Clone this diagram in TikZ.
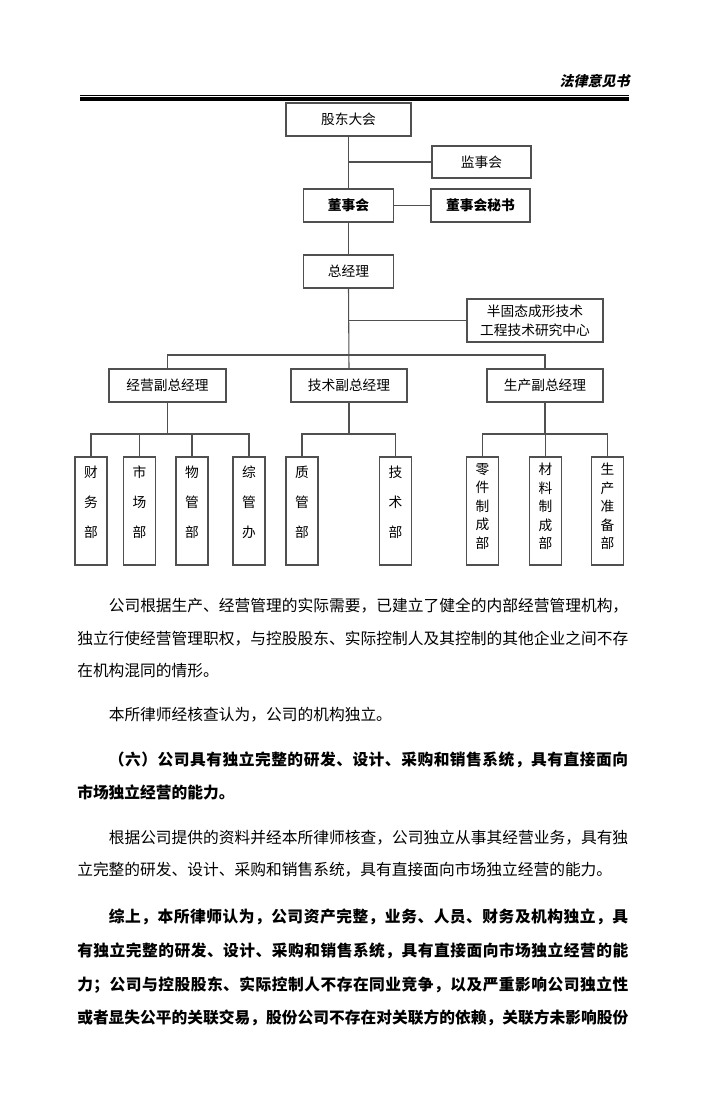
\documentclass[tikz,border=0pt]{standalone}
\usepackage{fontspec}
\newfontfamily\cjk{Noto Sans CJK SC}
\newfontfamily\hdr[FakeSlant=0.2]{Noto Sans CJK SC}
\definecolor{ln}{HTML}{505050}
\def\spr#1{\ifx#1\relax\else#1\hfil\expandafter\spr\fi}
\newcommand\fullline[1]{\hbox to 413.25pt{\spr #1\relax\unskip}}
\newcommand\indline[1]{\hbox to 389.6pt{\spr #1\relax\unskip}}
\tikzset{
  orgbox/.style={draw=ln, line width=0.8pt, fill=white, inner sep=0pt,
    font=\cjk\fontsize{10.3}{12}\selectfont, text=black},
  vbox/.style={draw=ln, line width=0.8pt, inner sep=0pt, minimum width=24pt, minimum height=81pt},
  vtext3/.style={inner sep=0pt, align=center, font=\cjk\fontsize{10.3}{22.5}\selectfont},
  vtext5/.style={inner sep=0pt, align=center, font=\cjk\fontsize{10.3}{13.9}\selectfont},
  conn/.style={draw=ln, line width=0.8pt},
  body/.style={anchor=west, inner sep=0pt, font=\cjk\fontsize{11.8}{14}\selectfont},
  bodyb/.style={body, font=\cjk\bfseries\fontsize{11.8}{14}\selectfont},
}
\begin{document}
\begin{tikzpicture}[x=0.75pt, y=-0.75pt]
\useasboundingbox (0,0) rectangle (700,1117);
\fill[white] (0,0) rectangle (700,1117);

% header
\node[anchor=east, inner sep=0pt, font=\hdr\bfseries\fontsize{10.5}{12}\selectfont] (hdr) at (630,81) {法律意见书};
\draw[line width=0.75pt] (80,95) -- (629,95);
\draw[line width=3pt] (80,99) -- (629,99);

% top boxes
\node[orgbox, minimum width=93.75pt, minimum height=24.75pt] (gd) at (348.5,119.5) {股东大会};
\node[orgbox, minimum width=74.25pt, minimum height=24pt] (jsh) at (481.5,162) {监事会};
\node[orgbox, minimum width=67.5pt, minimum height=24.75pt, font=\cjk\bfseries\fontsize{10.3}{12}\selectfont] (dsh) at (348.5,205.5) {董事会};
\node[orgbox, minimum width=74.25pt, minimum height=24.75pt, font=\cjk\bfseries\fontsize{10.3}{12}\selectfont] (ms) at (480.5,205.5) {董事会秘书};
\node[orgbox, minimum width=67.5pt, minimum height=24.75pt] (zjl) at (348.5,271.5) {总经理};
\node[orgbox, minimum width=102pt, minimum height=32.25pt, align=center, font=\cjk\fontsize{10.3}{14.25}\selectfont] (yj) at (535,320.5) {半固态成形技术\\工程技术研究中心};

% vice managers
\node[orgbox, minimum width=87.75pt, minimum height=24.75pt] (jy) at (167.5,385.5) {经营副总经理};
\node[orgbox, minimum width=87pt, minimum height=24.75pt] (js) at (349,385.5) {技术副总经理};
\node[orgbox, minimum width=87pt, minimum height=24.75pt] (sc) at (545,385.5) {生产副总经理};

% departments
\node[vbox] (cw) at (91,511) {};
\node[vbox] (sch) at (139.5,511) {};
\node[vbox] (wg) at (192,511) {};
\node[vbox] (zg) at (249,511) {};
\node[vbox] (zgb) at (302,511) {};
\node[vbox] (jsb) at (395.5,511) {};
\node[vbox] (lj) at (482.5,511) {};
\node[vbox] (cl) at (545.5,511) {};
\node[vbox] (scz) at (607.5,511) {};

\node[vtext3] (cwt) at (91,502) {财\\务\\部};
\node[vtext3] (scht) at (139.5,502) {市\\场\\部};
\node[vtext3] (wgt) at (192,502) {物\\管\\部};
\node[vtext3] (zgt) at (249,502) {综\\管\\办};
\node[vtext3] (zgbt) at (302,502) {质\\管\\部};
\node[vtext3] (jsbt) at (395.5,502) {技\\术\\部};
\node[vtext5] (ljt) at (482.5,506.5) {零\\件\\制\\成\\部};
\node[vtext5] (clt) at (545.5,506.5) {材\\料\\制\\成\\部};
\node[vtext5] (sczt) at (607.5,506.5) {生\\产\\准\\备\\部};

% connectors
\coordinate (busA) at (0,355);
\coordinate (busB) at (0,434);
\draw[conn] (gd.south) -- (dsh.north);
\draw[conn] (gd.south |- jsh.west) -- (jsh.west);
\draw[conn] (dsh.east) -- (ms.west);
\draw[conn] (dsh.south) -- (zjl.north);
\draw[conn] (zjl.south) -- (js.north);
\draw[conn] (zjl.south |- yj.west) -- (yj.west);
\draw[conn] (jy.north) -- (jy.north |- busA) -- (sc.north |- busA) -- (sc.north);

\draw[conn] (jy.south) -- (jy.south |- busB);
\draw[conn] (cw.north) -- (cw.north |- busB) -- (zg.north |- busB) -- (zg.north);
\draw[conn] (sch.north) -- (sch.north |- busB);
\draw[conn] (wg.north) -- (wg.north |- busB);

\draw[conn] (js.south) -- (js.south |- busB);
\draw[conn] (zgb.north) -- (zgb.north |- busB) -- (jsb.north |- busB) -- (jsb.north);

\draw[conn] (sc.south) -- (sc.south |- busB);
\draw[conn] (lj.north) -- (lj.north |- busB) -- (scz.north |- busB) -- (scz.north);
\draw[conn] (cl.north) -- (cl.north |- busB);

% body text
\node[body] (p1a) at (108.5,606) {\indline{公司根据生产、经营管理的实际需要，已建立了健全的内部经营管理机构，}};
\node[body] (p1b) at (77,639) {\fullline{独立行使经营管理职权，与控股股东、实际控制人及其控制的其他企业之间不存}};
\node[body] (p1c) at (77,671) {在机构混同的情形。};
\node[body] (p2) at (108.5,715) {本所律师经核查认为，公司的机构独立。};
\node[bodyb] (p3a) at (108.5,760) {\indline{（六）公司具有独立完整的研发、设计、采购和销售系统，具有直接面向}};
\node[bodyb] (p3b) at (77,792) {市场独立经营的能力。};
\node[body] (p4a) at (108.5,838) {\indline{根据公司提供的资料并经本所律师核查，公司独立从事其经营业务，具有独}};
\node[body] (p4b) at (77,870) {立完整的研发、设计、采购和销售系统，具有直接面向市场独立经营的能力。};
\node[bodyb] (p5a) at (108.5,917) {\indline{综上，本所律师认为，公司资产完整，业务、人员、财务及机构独立，具}};
\node[bodyb] (p5b) at (77,951) {\fullline{有独立完整的研发、设计、采购和销售系统，具有直接面向市场独立经营的能}};
\node[bodyb] (p5c) at (77,985) {\fullline{力；公司与控股股东、实际控制人不存在同业竞争，以及严重影响公司独立性}};
\node[bodyb] (p5d) at (77,1018) {\fullline{或者显失公平的关联交易，股份公司不存在对关联方的依赖，关联方未影响股份}};
\end{tikzpicture}
\end{document}
